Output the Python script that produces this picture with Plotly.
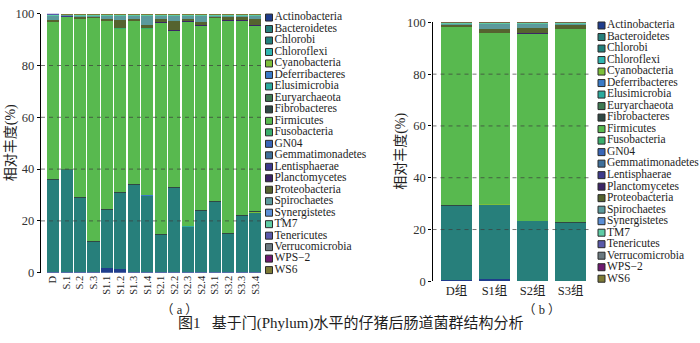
import plotly.graph_objects as go

W, H = 700, 343

phyla = ["Actinobacteria", "Bacteroidetes", "Chlorobi", "Chloroflexi", "Cyanobacteria",
         "Deferribacteres", "Elusimicrobia", "Euryarchaeota", "Fibrobacteres", "Firmicutes",
         "Fusobacteria", "GN04", "Gemmatimonadetes", "Lentisphaerae", "Planctomycetes",
         "Proteobacteria", "Spirochaetes", "Synergistetes", "TM7", "Tenericutes",
         "Verrucomicrobia", "WPS\u22122", "WS6"]

colors = ["#1f3d8c", "#277f7b", "#22807c", "#30b5b0", "#7cbf3a",
          "#3a7bc8", "#2bab9e", "#3e7a52", "#2f4844", "#58b94f",
          "#3aae6c", "#3a66b8", "#3f6f9a", "#3d3a8c", "#3c2566",
          "#55632f", "#5b9a9c", "#5b8fd6", "#5ecca5", "#5959aa",
          "#6b7980", "#6e1a70", "#7d7a35"]

samples = ["D", "S.1", "S.2", "S.3", "S1.1", "S1.2", "S1.3", "S1.4",
           "S2.1", "S2.2", "S2.3", "S2.4", "S3.1", "S3.2", "S3.3", "S3.4"]
groups = ["D组", "S1组", "S2组", "S3组"]

# ---- panel (a): relative abundance (%) per sample ----
a_Actinobacteria = [0.2, 0.1, 0.1, 0.1, 2.0, 1.5, 0.2, 0.1, 0.1, 0.2, 0.1, 0.1, 0.2, 0.2, 0.1, 0.1]
a_Bacteroidetes = [35.8, 39.9, 28.9, 11.9, 22.4, 29.5, 33.8, 29.9, 14.6, 32.8, 17.9, 24.0, 27.4, 15.0, 22.1, 23.4]
a_Chlorobi = [0.01] * 16
a_Chloroflexi = [0.01] * 16
a_Cyanobacteria = [0.05] * 16
a_Deferribacteres = [0.05] * 16
a_Elusimicrobia = [0.02] * 16
a_Euryarchaeota = [0.02] * 16
a_Fibrobacteres = [0.02] * 16
a_Firmicutes = [60.8, 59.0, 69.1, 86.3, 72.8, 63.4, 63.2, 64.4, 81.9, 60.5, 78.8, 71.3, 70.8, 82.1, 75.0, 71.9]
a_Fusobacteria = [0.02] * 16
a_GN04 = [0.01] * 16
a_Gemmatimonadetes = [0.01] * 16
a_Lentisphaerae = [0.03] * 16
a_Planctomycetes = [0.02] * 16
a_Proteobacteria = [0.6, 0.2, 0.3, 0.3, 0.6, 2.8, 0.6, 1.0, 1.2, 3.3, 0.9, 1.2, 0.2, 1.6, 1.5, 2.1]
a_Spirochaetes = [1.9, 0.2, 0.9, 0.7, 1.5, 2.1, 1.5, 3.9, 1.5, 2.5, 1.6, 2.7, 0.7, 0.4, 0.6, 1.8]
a_Synergistetes = [0.03] * 16
a_TM7 = [0.02] * 16
a_Tenericutes = [0.4, 0.2, 0.3, 0.3, 0.3, 0.3, 0.3, 0.3, 0.3, 0.3, 0.3, 0.3, 0.2, 0.3, 0.3, 0.3]
a_Verrucomicrobia = [0.05] * 16
a_WPS2 = [0.005] * 16
a_WS6 = [0.005] * 16

# ---- panel (b): group means (%) ----
b_Actinobacteria = [0.4, 0.9, 0.1, 0.1]
b_Bacteroidetes = [28.7, 28.8, 23.1, 22.5]
b_Chlorobi = [0.01, 0.01, 0.01, 0.01]
b_Chloroflexi = [0.01, 0.01, 0.01, 0.01]
b_Cyanobacteria = [0.05, 0.05, 0.05, 0.05]
b_Deferribacteres = [0.05, 0.05, 0.05, 0.05]
b_Elusimicrobia = [0.02, 0.02, 0.02, 0.02]
b_Euryarchaeota = [0.02, 0.02, 0.02, 0.02]
b_Fibrobacteres = [0.02, 0.02, 0.02, 0.02]
b_Firmicutes = [69.0, 66.1, 72.3, 74.7]
b_Fusobacteria = [0.02, 0.02, 0.02, 0.02]
b_GN04 = [0.01, 0.01, 0.01, 0.01]
b_Gemmatimonadetes = [0.01, 0.01, 0.01, 0.01]
b_Lentisphaerae = [0.03, 0.03, 0.03, 0.03]
b_Planctomycetes = [0.02, 0.02, 0.02, 0.02]
b_Proteobacteria = [0.6, 1.2, 1.9, 1.4]
b_Spirochaetes = [0.6, 2.3, 1.9, 0.6]
b_Synergistetes = [0.03, 0.03, 0.03, 0.03]
b_TM7 = [0.02, 0.02, 0.02, 0.02]
b_Tenericutes = [0.3, 0.3, 0.3, 0.3]
b_Verrucomicrobia = [0.05, 0.05, 0.05, 0.05]
b_WPS2 = [0.005, 0.005, 0.005, 0.005]
b_WS6 = [0.005, 0.005, 0.005, 0.005]

grid_values = [20, 40, 60, 80]
y_ticks = [0, 20, 40, 60, 80, 100]

a_series = [a_Actinobacteria, a_Bacteroidetes, a_Chlorobi, a_Chloroflexi, a_Cyanobacteria,
            a_Deferribacteres, a_Elusimicrobia, a_Euryarchaeota, a_Fibrobacteres, a_Firmicutes,
            a_Fusobacteria, a_GN04, a_Gemmatimonadetes, a_Lentisphaerae, a_Planctomycetes,
            a_Proteobacteria, a_Spirochaetes, a_Synergistetes, a_TM7, a_Tenericutes,
            a_Verrucomicrobia, a_WPS2, a_WS6]
b_series = [b_Actinobacteria, b_Bacteroidetes, b_Chlorobi, b_Chloroflexi, b_Cyanobacteria,
            b_Deferribacteres, b_Elusimicrobia, b_Euryarchaeota, b_Fibrobacteres, b_Firmicutes,
            b_Fusobacteria, b_GN04, b_Gemmatimonadetes, b_Lentisphaerae, b_Planctomycetes,
            b_Proteobacteria, b_Spirochaetes, b_Synergistetes, b_TM7, b_Tenericutes,
            b_Verrucomicrobia, b_WPS2, b_WS6]

FONT = "Liberation Serif, 'Noto Sans CJK SC', serif"
TXT = "#1e1e1e"

fig = go.Figure()

for name, col, vals in zip(phyla, colors, a_series):
    fig.add_trace(go.Bar(x=samples, y=vals, name=name, marker=dict(color=col, line=dict(width=0)),
                         width=0.89, xaxis="x", yaxis="y", showlegend=False))
for name, col, vals in zip(phyla, colors, b_series):
    fig.add_trace(go.Bar(x=groups, y=vals, name=name, marker=dict(color=col, line=dict(width=0)),
                         width=0.82, xaxis="x2", yaxis="y2", showlegend=False))

# legend-like keys drawn as scatter on their own hidden axes
idx = list(range(len(phyla)))
for xa, ya in (("x3", "y3"), ("x4", "y4")):
    fig.add_trace(go.Scatter(x=[0] * len(phyla), y=idx, mode="markers+text", text=phyla,
                             textposition="middle right",
                             textfont=dict(family=FONT, size=11.5, color=TXT),
                             marker=dict(symbol="square", size=7, color=colors,
                                         line=dict(color="#2a2a2a", width=1)),
                             cliponaxis=False, hoverinfo="skip", showlegend=False,
                             xaxis=xa, yaxis=ya))

def px_x(v):
    return v / W

def px_y(v):
    return (H - v) / H

yaxis_common = dict(range=[0, 100], tickvals=y_ticks, showgrid=False, zeroline=False,
                    showline=True, linecolor="black", linewidth=1.3, ticks="outside",
                    ticklen=3, tickcolor="black", tickwidth=1,
                    tickfont=dict(family=FONT, size=12.5, color="#333333"))

fig.update_layout(
    width=W, height=H, margin=dict(l=0, r=0, t=0, b=0),
    paper_bgcolor="white", plot_bgcolor="white",
    barmode="stack", showlegend=False,
    font=dict(family=FONT, color=TXT),
    xaxis=dict(domain=[px_x(41), px_x(263)], type="category", range=[-0.89, 15.56],
               tickangle=-90, showline=False, showgrid=False, zeroline=False, ticks="",
               tickfont=dict(family=FONT, size=10.5, color=TXT)),
    yaxis=dict(domain=[px_y(277), px_y(7)], anchor="x", **yaxis_common),
    xaxis2=dict(domain=[px_x(432.5), px_x(590)], type="category", range=[-0.63, 3.51],
                showline=False, showgrid=False, zeroline=False, ticks="", anchor="y2",
                tickfont=dict(family=FONT, size=12.5, color=TXT)),
    yaxis2=dict(domain=[px_y(286), px_y(16)], anchor="x2", **yaxis_common),
    xaxis3=dict(domain=[px_x(269), px_x(269) + 0.1], range=[0, 1], visible=False),
    yaxis3=dict(domain=[px_y(274.3), px_y(11)], range=[len(phyla) - 1, 0], visible=False, anchor="x3"),
    xaxis4=dict(domain=[px_x(601.5), 1.0], range=[0, 1], visible=False),
    yaxis4=dict(domain=[px_y(283.3), px_y(19.3)], range=[len(phyla) - 1, 0], visible=False, anchor="x4"),
)

shapes = []
for g in grid_values:
    for xr, yr in (("x domain", "y"), ("x2 domain", "y2")):
        shapes.append(dict(type="line", xref=xr, yref=yr, x0=0, x1=1, y0=g, y1=g,
                           line=dict(color="rgba(60,60,60,0.7)", width=1, dash="4px,4px"),
                           layer="above"))
fig.update_layout(shapes=shapes)

annotations = [
    dict(text="相对丰度(%)", x=px_x(11), y=px_y(142), xref="paper", yref="paper", textangle=-90,
         showarrow=False, font=dict(family=FONT, size=14, color=TXT), xanchor="center", yanchor="middle"),
    dict(text="相对丰度(%)", x=px_x(401), y=px_y(151), xref="paper", yref="paper", textangle=-90,
         showarrow=False, font=dict(family=FONT, size=14, color=TXT), xanchor="center", yanchor="middle"),
    dict(text="（ a ）", x=px_x(180), y=px_y(316), xref="paper", yref="paper", showarrow=False,
         font=dict(family=FONT, size=12.5, color=TXT), xanchor="center", yanchor="middle",
         borderpad=0),
    dict(text="（ b ）", x=px_x(542), y=px_y(316), xref="paper", yref="paper", showarrow=False,
         font=dict(family=FONT, size=12.5, color=TXT), xanchor="center", yanchor="middle",
         borderpad=0),
    dict(text="图1   基于门(Phylum)水平的仔猪后肠道菌群结构分析", x=px_x(350), y=px_y(330),
         xref="paper", yref="paper", showarrow=False,
         font=dict(family=FONT, size=15, color=TXT), xanchor="center", yanchor="middle",
         borderpad=0),
]
fig.update_layout(annotations=annotations)

fig.write_html("out.html")
